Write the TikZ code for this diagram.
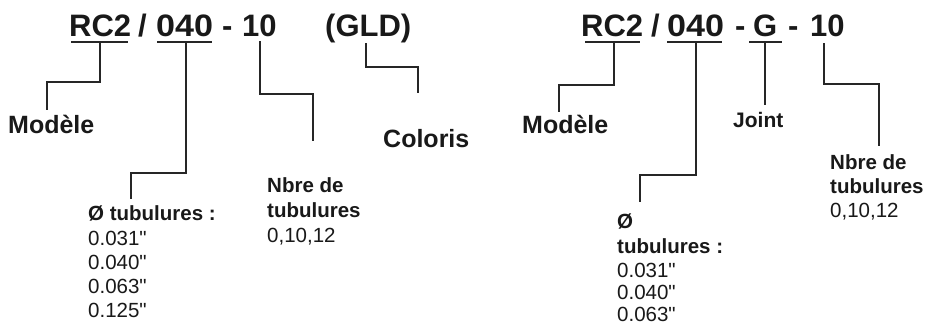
\documentclass[tikz,border=0pt]{standalone}
\usepackage{fontspec}
\setmainfont{Liberation Sans}[Ligatures=TeXOff]
\begin{document}
\begin{tikzpicture}[x=1pt,y=-1pt,
  txt/.style={anchor=base west, inner sep=0pt, text=black!90},
  title/.style={txt, font=\fontsize{31}{36}\selectfont\bfseries},
  big/.style={txt, font=\fontsize{25}{30}\selectfont\bfseries},
  mid/.style={txt, font=\fontsize{21}{25}\selectfont\bfseries},
  smb/.style={txt, font=\fontsize{20.5}{24}\selectfont\bfseries},
  smr/.style={txt, font=\fontsize{20.5}{24}\selectfont},
  wire/.style={draw=black!85, line width=2pt},
]
\clip (0,0) rectangle (927,327);
\fill[white] (0,0) rectangle (927,327);

% ---------- left code ----------
\node[title] (lrc) at (69,36) {RC2};
\node[title] (lsl) at (138,36) {/};
\node[title, xscale=1.1] (l040) at (156,36) {040};
\node[title] (ldash) at (222,36) {-};
\node[title] (l10) at (242,36) {10};
\node[title] (lgld) at (325,36) {(GLD)};

\coordinate (lu1a) at (71,42); \coordinate (lu1b) at (128,42);
\coordinate (lu2a) at (157,42); \coordinate (lu2b) at (212,42);
\draw[wire] (lu1a) -- (lu1b);
\draw[wire] (lu2a) -- (lu2b);

\node[big] (lmod) at (8,133) {Modèle};
\node[big] (lcol) at (383,147) {Coloris};

\node[smb] (ld0) at (88,220) {Ø tubulures :};
\node[smr] (ld1) at (88,245) {0.031"};
\node[smr] (ld2) at (88,269) {0.040"};
\node[smr] (ld3) at (88,293) {0.063"};
\node[smr] (ld4) at (88,317) {0.125"};

\node[smb] (ln0) at (267,192) {Nbre de};
\node[smb] (ln1) at (267,217) {tubulures};
\node[smr] (ln2) at (267,242) {0,10,12};

\coordinate (lc1) at (100,42);
\coordinate (lc2) at (186,42);
\coordinate (lc3) at (260,41);
\coordinate (lc4) at (366,43);
\draw[wire] (lc1) -- ++(0,40) -- ++(-53,0) -- ++(0,28);
\draw[wire] (lc2) -- ++(0,131) -- ++(-55,0) -- ++(0,26);
\draw[wire] (lc3) -- ++(0,53) -- ++(53,0) -- ++(0,47);
\draw[wire] (lc4) -- ++(0,24) -- ++(52,0) -- ++(0,26);

% ---------- right code ----------
\node[title] (rrc) at (581,36) {RC2};
\node[title] (rsl) at (651,36) {/};
\node[title, xscale=1.1] (r040) at (667,36) {040};
\node[title] (rdash1) at (735,36) {-};
\node[title] (rg) at (753,36) {G};
\node[title] (rdash2) at (788,36) {-};
\node[title] (r10) at (810,36) {10};

\coordinate (ru1a) at (585,42); \coordinate (ru1b) at (640,42);
\coordinate (ru2a) at (667,42); \coordinate (ru2b) at (722,42);
\coordinate (ru3a) at (749,42); \coordinate (ru3b) at (782,42);
\draw[wire] (ru1a) -- (ru1b);
\draw[wire] (ru2a) -- (ru2b);
\draw[wire] (ru3a) -- (ru3b);

\node[big] (rmod) at (522,133) {Modèle};
\node[mid] (rjoint) at (733,127) {Joint};

\node[smb] (rd0) at (617,228) {Ø};
\node[smb] (rd1) at (617,253) {tubulures :};
\node[smr] (rd2) at (617,277) {0.031"};
\node[smr] (rd3) at (617,299) {0.040"};
\node[smr] (rd4) at (617,321) {0.063"};

\node[smb] (rn0) at (830,169) {Nbre de};
\node[smb] (rn1) at (830,193) {tubulures};
\node[smr] (rn2) at (830,217) {0,10,12};

\coordinate (rc1) at (614,42);
\coordinate (rc2) at (696,42);
\coordinate (rc3) at (765,42);
\coordinate (rc4) at (824,43);
\draw[wire] (rc1) -- ++(0,43) -- ++(-55,0) -- ++(0,27);
\draw[wire] (rc2) -- ++(0,133) -- ++(-56,0) -- ++(0,27);
\draw[wire] (rc3) -- ++(0,63);
\draw[wire] (rc4) -- ++(0,41) -- ++(55,0) -- ++(0,62);
\end{tikzpicture}
\end{document}
